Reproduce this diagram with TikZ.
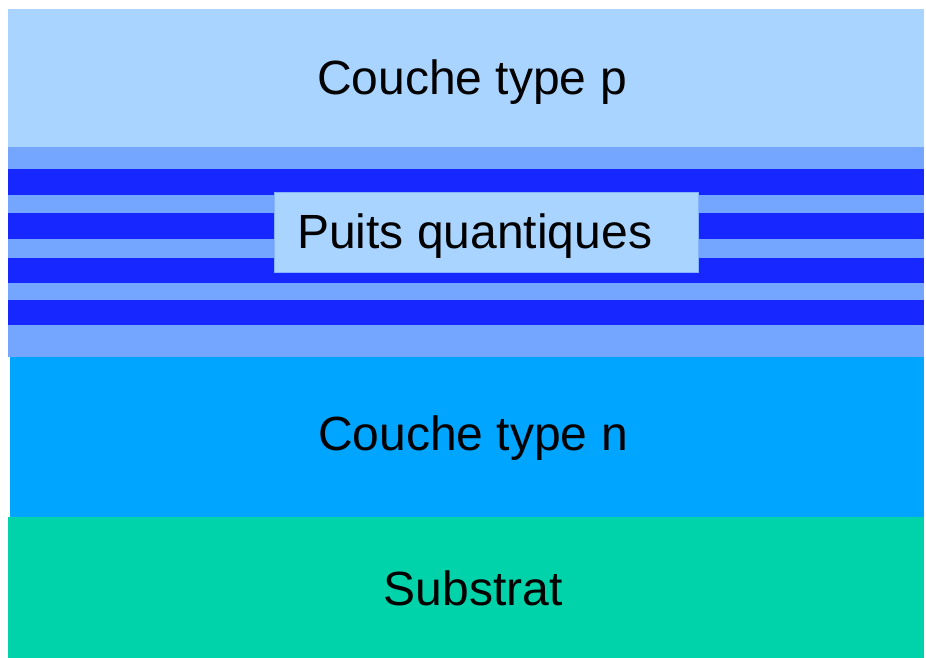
\documentclass[tikz,border=0pt]{standalone}
\usepackage{fontspec}
\setmainfont{Liberation Sans}
\definecolor{ptop}{RGB}{168,212,255}
\definecolor{wellmed}{RGB}{117,166,255}
\definecolor{welldark}{RGB}{22,40,255}
\definecolor{nlayer}{RGB}{0,165,255}
\definecolor{subst}{RGB}{0,210,170}
\tikzset{
  lbl/.style={font=\fontsize{48}{56}\selectfont, text=black, inner sep=0pt},
}
\begin{document}
\begin{tikzpicture}[x=1pt,y=-1pt]
\useasboundingbox (0,0) rectangle (926,658);
\fill[white] (0,0) rectangle (926,658);
% p layer
\fill[ptop] (8,9) rectangle (924,147);
% quantum well region
\fill[wellmed] (8,147) rectangle (924,357);
\foreach \a/\b in {169/195,213/239,258/283,300/325}
  \fill[welldark] (8,\a) rectangle (924,\b);
% n layer
\fill[nlayer] (10,357) rectangle (924,517);
% substrate
\fill[subst] (8,517) rectangle (924,658);
% label box
\node[draw=wellmed!70!ptop, line width=0.8pt, fill=ptop, minimum width=424pt, minimum height=80pt, anchor=north west, inner sep=0pt] (qwbox) at (274,192) {};
\node[lbl, anchor=base west] (qw) at (297,248) {Puits quantiques};
\node[lbl, anchor=base] (p) at (472,95) {Couche type p};
\node[lbl, anchor=base] (n) at (473,450) {Couche type n};
\node[lbl, anchor=base] (s) at (473,605) {Substrat};
\end{tikzpicture}
\end{document}
